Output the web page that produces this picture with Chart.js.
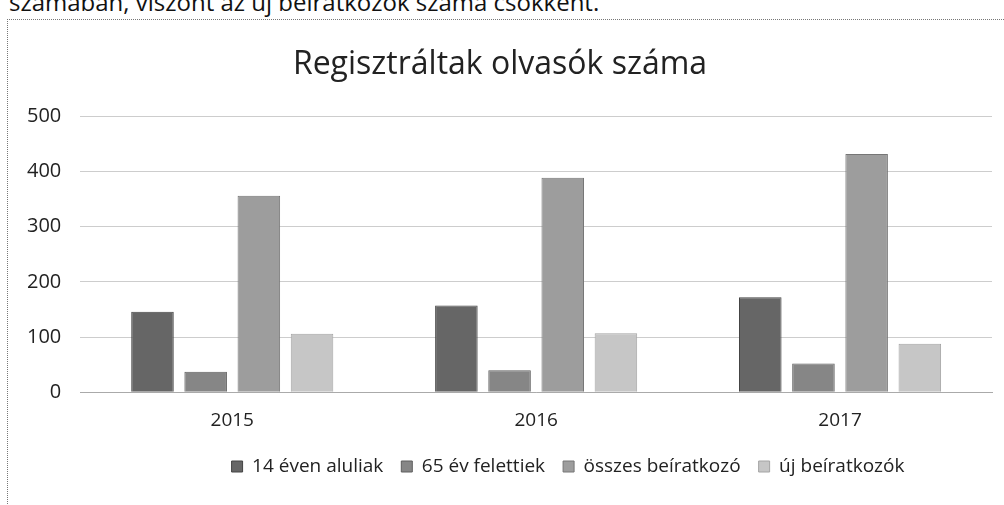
<!DOCTYPE html>
<html>
<head>
<meta charset="utf-8">
<script src="https://cdn.jsdelivr.net/npm/chart.js@4.4.0/dist/chart.umd.min.js"></script>
<style>
  html, body { margin: 0; padding: 0; background: #fff; width: 1004px; height: 505px; overflow: hidden; }
  #pageText { position: absolute; left: 9px; top: -15px; font-family: "Open Sans", sans-serif; font-size: 24px; color: #111; white-space: nowrap; }
  #frame { position: absolute; left: 7px; top: 19px; width: 1010px; height: 500px; border-left: 1px dotted #777; border-top: 1px dotted #777; }
  #wrap { position: absolute; left: 8px; top: 20px; width: 996px; height: 485px; }
</style>
</head>
<body>
<div id="pageText">számában, viszont az új beíratkozók száma csökkent.</div>
<div id="frame"></div>
<div id="wrap"><canvas id="barChart"></canvas></div>
<script>
// adatok
const years = ['2015', '2016', '2017'];
const under14 = [146, 157, 172];
const over65 = [37, 40, 52];
const totalReg = [356, 389, 432];
const newReg = [106, 107, 88];
const yTicks = [0, 100, 200, 300, 400, 500];

const seriesNames = ['14 éven aluliak', '65 év felettiek', 'összes beíratkozó', 'új beíratkozók'];
const fills = ['#666666', '#868686', '#9d9d9d', '#c6c6c6'];
const borders = ['#444444', '#5e5e5e', '#767676', '#a4a4a4'];

const font = "'Open Sans', sans-serif";

// a jelmagyarázat az eredetin kicsit jobbra tolva áll
const legendShift = {
    id: 'legendShift',
    afterLayout(chart) {
        chart.legend.left += 68;
        chart.legend.right += 68;
    }
};

const ctx = document.getElementById('barChart');
new Chart(ctx, {
    type: 'bar',
    data: {
        labels: years,
        datasets: [under14, over65, totalReg, newReg].map((d, i) => ({
            label: seriesNames[i],
            data: d,
            backgroundColor: fills[i],
            borderColor: borders[i],
            borderWidth: 1,
            barPercentage: 0.8,
            categoryPercentage: 0.7
        }))
    },
    options: {
        responsive: true,
        maintainAspectRatio: false,
        animation: false,
        layout: { padding: { left: 0, right: 12, top: 0, bottom: 19 } },
        plugins: {
            title: {
                display: true,
                text: 'Regisztráltak olvasók száma',
                color: '#222',
                font: { family: font, size: 32, weight: 'normal' },
                padding: { top: 26, bottom: 32 }
            },
            legend: {
                position: 'bottom',
                labels: {
                    color: '#222',
                    font: { family: font, size: 19 },
                    boxWidth: 11,
                    boxHeight: 11,
                    padding: 18
                }
            },
            tooltip: { enabled: false }
        },
        scales: {
            x: {
                grid: { display: false },
                border: { color: '#aaa' },
                ticks: { color: '#222', font: { family: font, size: 19 }, padding: 9 },
                afterFit: axis => { axis.height -= 2; }
            },
            y: {
                min: 0,
                max: 500,
                afterBuildTicks: axis => { axis.ticks = yTicks.map(v => ({ value: v })); },
                grid: { color: '#cdcdcd', drawTicks: false },
                border: { display: false },
                ticks: { color: '#222', font: { family: font, size: 20 }, padding: 19 }
            }
        }
    },
    plugins: [legendShift]
});
</script>
</body>
</html>
